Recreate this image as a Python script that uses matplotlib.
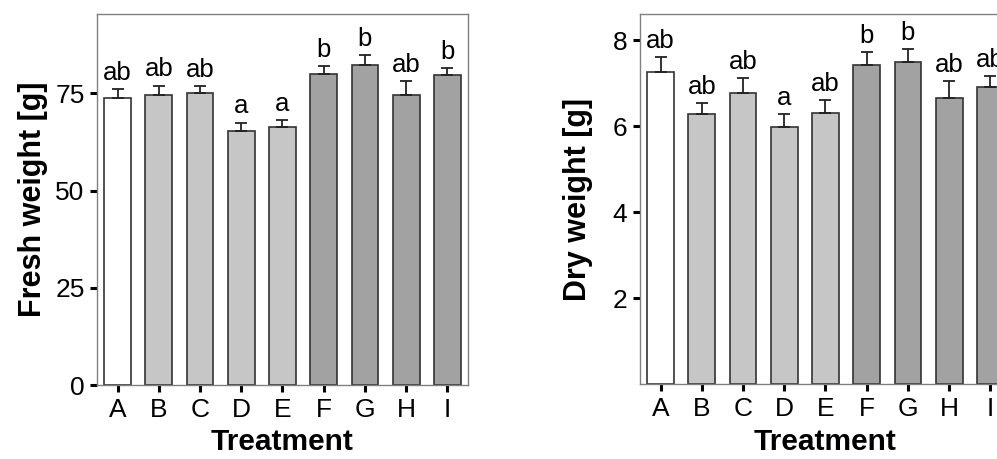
import matplotlib
matplotlib.use('Agg')
import matplotlib.pyplot as plt
import numpy as np

plt.rcParams['font.family'] = ['Liberation Sans', 'DejaVu Sans']

treatments = ['A', 'B', 'C', 'D', 'E', 'F', 'G', 'H', 'I']
bar_colors = ['#ffffff', '#c6c6c6', '#c6c6c6', '#c6c6c6', '#c6c6c6',
              '#a2a2a2', '#a2a2a2', '#a2a2a2', '#a2a2a2']

fresh = [73.7, 74.7, 75.0, 65.4, 66.4, 80.0, 82.4, 74.7, 79.6]
fresh_err = [2.3, 2.3, 1.8, 2.1, 1.7, 2.0, 2.4, 3.4, 1.8]
fresh_letters = ['ab', 'ab', 'ab', 'a', 'a', 'b', 'b', 'ab', 'b']

dry = [7.26, 6.28, 6.78, 5.98, 6.30, 7.43, 7.50, 6.66, 6.91]
dry_err = [0.34, 0.25, 0.33, 0.31, 0.30, 0.30, 0.29, 0.39, 0.25]
dry_letters = ['ab', 'ab', 'ab', 'a', 'ab', 'b', 'b', 'ab', 'ab']


def panel(ax, vals, errs, letters, ylabel, ylim, yticks, ypad):
    x = np.arange(len(treatments))
    ax.bar(x, vals, width=0.65, color=bar_colors, edgecolor='#333333',
           linewidth=1.2, zorder=2,
           yerr=[np.zeros(len(errs)), errs],
           error_kw=dict(ecolor='#222222', elinewidth=1.3, capsize=4, capthick=1.3))
    for xi, v, e, lab in zip(x, vals, errs, letters):
        ax.annotate(lab, (xi, v + e), xytext=(0, 3), textcoords='offset points',
                    ha='center', va='bottom', fontsize=18.5)
    ax.set_xlim(-0.5, 8.5)
    ax.set_ylim(*ylim)
    ax.set_xticks(x)
    ax.set_xticklabels(treatments)
    ax.set_yticks(yticks)
    ax.tick_params(axis='both', direction='out', length=5, width=2.2,
                   color='black', labelsize=19, pad=4)
    for s in ax.spines.values():
        s.set_color('#808080')
        s.set_linewidth(1)
    ax.set_xlabel('Treatment', fontsize=21.5, fontweight='bold', labelpad=5)
    ax.set_ylabel(ylabel, fontsize=22, fontweight='bold', labelpad=ypad)


fig = plt.figure(figsize=(9.97, 4.59), dpi=100)
ax1 = fig.add_axes([0.0973, 0.1612, 0.3721, 0.8083])
ax2 = fig.add_axes([0.6419, 0.1627, 0.3721, 0.806])

panel(ax1, fresh, fresh_err, fresh_letters, 'Fresh weight [g]', (0, 95.4), [0, 25, 50, 75], 5)
panel(ax2, dry, dry_err, dry_letters, 'Dry weight [g]', (0, 8.6), [2, 4, 6, 8], 14)

fig.savefig('out.png', dpi=100)
